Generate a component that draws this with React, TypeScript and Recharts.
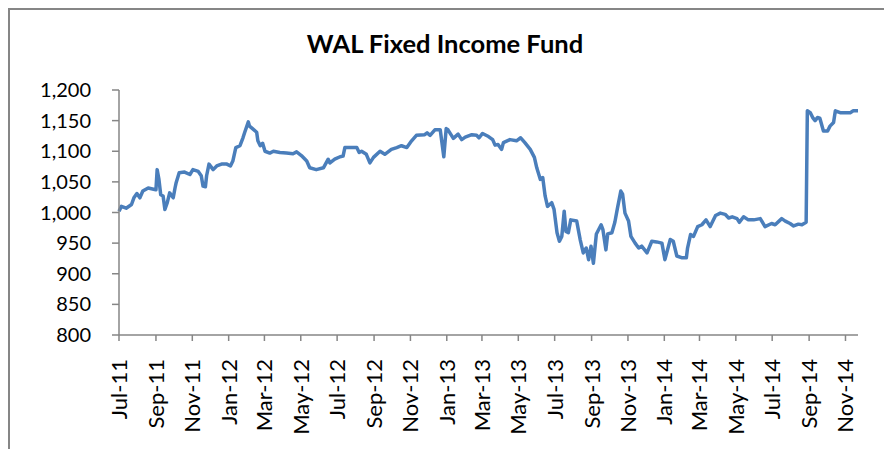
import { LineChart, Line, XAxis, YAxis } from 'recharts';

const navDates = [
  '2011-07-01', '2011-07-05', '2011-07-13', '2011-07-22', '2011-07-26', '2011-07-31',
  '2011-08-05', '2011-08-10', '2011-08-19', '2011-08-28', '2011-09-01', '2011-09-03',
  '2011-09-06', '2011-09-09', '2011-09-13', '2011-09-16', '2011-09-20', '2011-09-24',
  '2011-09-30', '2011-10-03', '2011-10-05', '2011-10-10', '2011-10-19', '2011-10-28',
  '2011-11-02', '2011-11-11', '2011-11-16', '2011-11-19', '2011-11-23', '2011-11-25',
  '2011-11-29', '2011-12-06', '2011-12-12', '2011-12-20', '2011-12-29', '2012-01-04',
  '2012-01-08', '2012-01-13', '2012-01-20', '2012-01-25', '2012-01-28', '2012-02-03',
  '2012-02-05', '2012-02-11', '2012-02-17', '2012-02-19', '2012-02-23', '2012-02-27',
  '2012-03-02', '2012-03-10', '2012-03-16', '2012-03-27', '2012-04-07', '2012-04-18',
  '2012-04-24', '2012-05-02', '2012-05-11', '2012-05-16', '2012-05-27', '2012-06-08',
  '2012-06-16', '2012-06-19', '2012-06-27', '2012-07-06', '2012-07-11', '2012-07-14',
  '2012-07-22', '2012-08-03', '2012-08-07', '2012-08-11', '2012-08-19', '2012-08-25',
  '2012-08-31', '2012-09-11', '2012-09-19', '2012-09-30', '2012-10-09', '2012-10-17',
  '2012-10-26', '2012-11-03', '2012-11-11', '2012-11-25', '2012-11-29', '2012-12-04',
  '2012-12-12', '2012-12-21', '2012-12-27', '2012-12-31', '2013-01-03', '2013-01-12',
  '2013-01-20', '2013-01-26', '2013-02-01', '2013-02-12', '2013-02-20', '2013-02-24',
  '2013-03-02', '2013-03-12', '2013-03-19', '2013-03-23', '2013-03-28', '2013-04-03',
  '2013-04-06', '2013-04-17', '2013-04-28', '2013-05-05', '2013-05-12', '2013-05-21',
  '2013-05-28', '2013-06-01', '2013-06-07', '2013-06-11', '2013-06-15', '2013-06-19',
  '2013-06-26', '2013-06-30', '2013-07-05', '2013-07-09', '2013-07-13', '2013-07-17',
  '2013-07-20', '2013-07-24', '2013-07-28', '2013-08-07', '2013-08-13', '2013-08-18',
  '2013-08-23', '2013-08-27', '2013-08-31', '2013-09-04', '2013-09-09', '2013-09-17',
  '2013-09-20', '2013-09-25', '2013-09-28', '2013-10-05', '2013-10-10', '2013-10-14',
  '2013-10-20', '2013-10-23', '2013-10-27', '2013-11-02', '2013-11-06', '2013-11-13',
  '2013-11-19', '2013-11-24', '2013-12-03', '2013-12-11', '2013-12-19', '2013-12-28',
  '2014-01-02', '2014-01-11', '2014-01-16', '2014-01-22', '2014-01-31', '2014-02-07',
  '2014-02-09', '2014-02-14', '2014-02-19', '2014-02-26', '2014-03-05', '2014-03-12',
  '2014-03-19', '2014-03-28', '2014-04-05', '2014-04-13', '2014-04-19', '2014-04-25',
  '2014-05-03', '2014-05-07', '2014-05-14', '2014-05-22', '2014-05-31', '2014-06-11',
  '2014-06-19', '2014-06-30', '2014-07-06', '2014-07-17', '2014-07-23', '2014-07-31',
  '2014-08-06', '2014-08-14', '2014-08-20', '2014-08-27', '2014-08-29', '2014-09-03',
  '2014-09-07', '2014-09-11', '2014-09-15', '2014-09-19', '2014-09-25', '2014-10-02',
  '2014-10-06', '2014-10-12', '2014-10-15', '2014-10-23', '2014-11-09', '2014-11-14',
  '2014-11-22',
];

const navValues = [
  1002, 1010, 1007, 1013, 1024, 1031,
  1024, 1035, 1040, 1038, 1037, 1070,
  1054, 1029, 1027, 1005, 1016, 1032,
  1024, 1040, 1049, 1065, 1066, 1062,
  1070, 1067, 1060, 1043, 1042, 1060,
  1079, 1070, 1076, 1079, 1079, 1076,
  1084, 1106, 1109, 1122, 1131, 1148,
  1141, 1136, 1131, 1117, 1109, 1113,
  1100, 1097, 1100, 1098, 1097, 1096,
  1099, 1093, 1084, 1073, 1070, 1073,
  1087, 1081, 1087, 1091, 1092, 1106,
  1106, 1106, 1098, 1100, 1095, 1081,
  1090, 1100, 1095, 1103, 1106, 1109,
  1106, 1117, 1126, 1127, 1130, 1126,
  1135, 1135, 1091, 1137, 1135, 1121,
  1128, 1119, 1123, 1127, 1126, 1122,
  1129, 1124, 1119, 1110, 1111, 1103,
  1114, 1119, 1117, 1122, 1114, 1103,
  1090, 1073, 1054, 1057, 1027, 1010,
  1016, 1005, 967, 953, 961, 1002,
  969, 967, 988, 986, 955, 934,
  942, 923, 945, 917, 965, 980,
  972, 939, 965, 967, 984, 1005,
  1035, 1030, 999, 986, 961, 950,
  942, 945, 934, 953, 952, 950,
  923, 956, 953, 929, 926, 926,
  942, 964, 961, 977, 980, 988,
  977, 995, 999, 997, 991, 993,
  990, 984, 993, 988, 988, 990,
  977, 982, 980, 990, 986, 982,
  978, 981, 980, 984, 1166, 1163,
  1155, 1150, 1155, 1154, 1133, 1133,
  1141, 1147, 1166, 1163, 1163, 1166,
  1166,
];

const tickDates = [
  '2011-07-01', '2011-09-01', '2011-11-01', '2012-01-01', '2012-03-01', '2012-05-01',
  '2012-07-01', '2012-09-01', '2012-11-01', '2013-01-01', '2013-03-01', '2013-05-01',
  '2013-07-01', '2013-09-01', '2013-11-01', '2014-01-01', '2014-03-01', '2014-05-01',
  '2014-07-01', '2014-09-01', '2014-11-01',
];

const tickLabels = [
  'Jul-11', 'Sep-11', 'Nov-11', 'Jan-12', 'Mar-12', 'May-12',
  'Jul-12', 'Sep-12', 'Nov-12', 'Jan-13', 'Mar-13', 'May-13',
  'Jul-13', 'Sep-13', 'Nov-13', 'Jan-14', 'Mar-14', 'May-14',
  'Jul-14', 'Sep-14', 'Nov-14',
];

const yTicks = [800, 850, 900, 950, 1000, 1050, 1100, 1150, 1200];

const toTime = (d: string) => new Date(d + 'T00:00:00Z').getTime();

const chartData = navDates.map((d, i) => ({ t: toTime(d), nav: navValues[i] }));
const xTicks = tickDates.map(toTime);

const axisColor = '#868686';
const font = 'Lato, "Open Sans", sans-serif';

const MonthTick = ({ x, y, payload }: any) => {
  const idx = xTicks.indexOf(payload.value);
  return (
    <text
      x={x}
      y={y}
      transform={`rotate(-90, ${x}, ${y})`}
      textAnchor="end"
      dy="0.36em"
      fontSize={22}
      fontFamily={font}
      fill="#000"
    >
      {tickLabels[idx]}
    </text>
  );
};

export default function App() {
  return (
    <div
      style={{
        position: 'relative',
        width: 878,
        height: 441,
        boxSizing: 'border-box',
        borderTop: `2px solid ${axisColor}`,
        borderLeft: `2px solid ${axisColor}`,
        borderRight: `2px solid ${axisColor}`,
        background: '#fff',
      }}
    >
      <style>{'body{overflow:hidden}'}</style>
      <LineChart
        width={874}
        height={439}
        data={chartData}
        margin={{ top: 80, right: 26, bottom: 0, left: 0 }}
      >
        <XAxis
          dataKey="t"
          type="number"
          scale="time"
          domain={[chartData[0].t, chartData[chartData.length - 1].t]}
          ticks={xTicks}
          interval={0}
          height={114}
          tickSize={6}
          tickMargin={18}
          stroke={axisColor}
          strokeWidth={1.5}
          tickLine={{ stroke: axisColor, strokeWidth: 1.5 }}
          tick={<MonthTick />}
        />
        <YAxis
          type="number"
          domain={[800, 1200]}
          ticks={yTicks}
          interval={0}
          width={109}
          tickSize={7}
          tickMargin={21}
          stroke={axisColor}
          strokeWidth={1.5}
          tickLine={{ stroke: axisColor, strokeWidth: 1.5 }}
          tick={{ fontSize: 20, fontFamily: font, fill: '#000' }}
          tickFormatter={(v: number) => v.toLocaleString('en-US')}
        />
        <Line
          type="linear"
          dataKey="nav"
          stroke="#4a7ebb"
          strokeWidth={3.5}
          strokeLinejoin="round"
          dot={false}
          isAnimationActive={false}
        />
      </LineChart>
      <svg
        width={874}
        height={80}
        style={{ position: 'absolute', left: 0, top: 0, pointerEvents: 'none' }}
      >
        <text
          x={435}
          y={43}
          textAnchor="middle"
          fontSize={25.5}
          fontWeight="bold"
          fontFamily={font}
          fill="#000"
        >
          WAL Fixed Income Fund
        </text>
      </svg>
    </div>
  );
}
